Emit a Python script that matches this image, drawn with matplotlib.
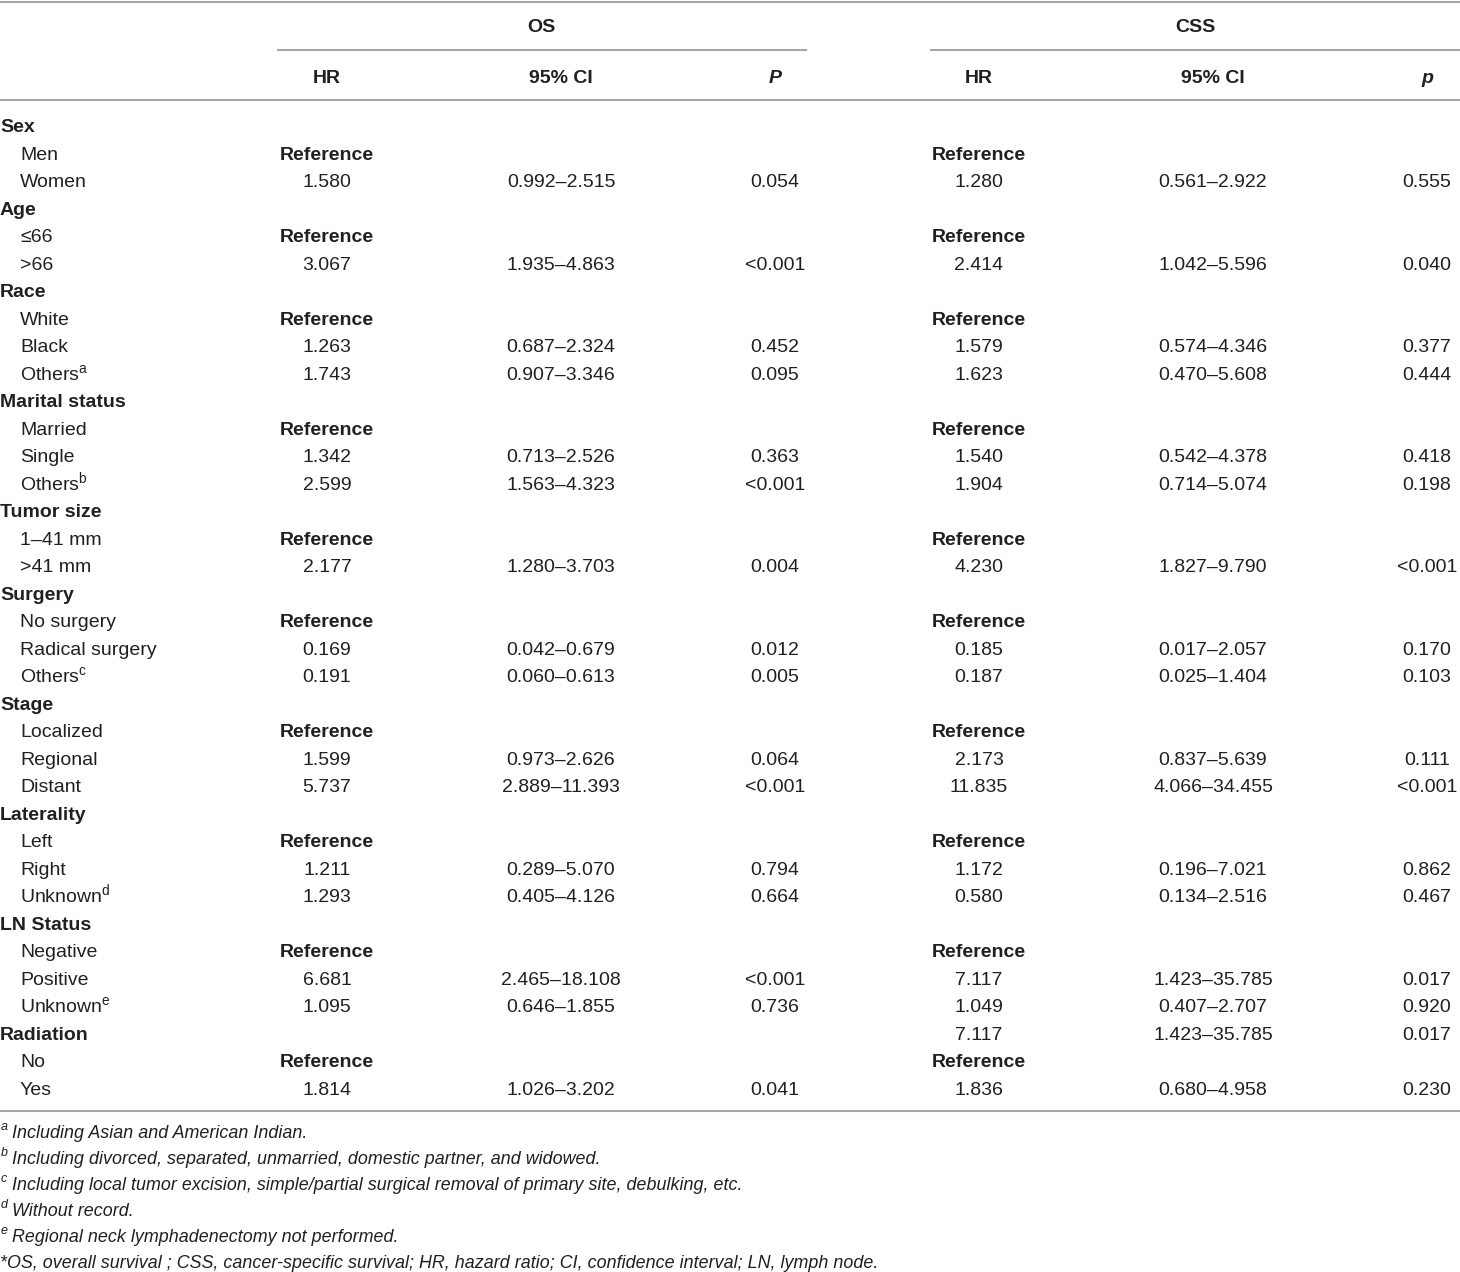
import matplotlib
matplotlib.use("Agg")
import matplotlib.pyplot as plt

plt.rcParams['font.family'] = ['Liberation Sans', 'DejaVu Sans']
plt.rcParams['mathtext.fontset'] = 'custom'
plt.rcParams['mathtext.rm'] = 'Liberation Sans'
plt.rcParams['mathtext.it'] = 'Liberation Sans:italic'

# ---- table content -------------------------------------------------------
labels = ["Sex", "Men", "Women",
          "Age", "≤66", ">66",
          "Race", "White", "Black", r"Others$^{\mathrm{a}}$",
          "Marital status", "Married", "Single", r"Others$^{\mathrm{b}}$",
          "Tumor size", "1–41 mm", ">41 mm",
          "Surgery", "No surgery", "Radical surgery", r"Others$^{\mathrm{c}}$",
          "Stage", "Localized", "Regional", "Distant",
          "Laterality", "Left", "Right", r"Unknown$^{\mathrm{d}}$",
          "LN Status", "Negative", "Positive", r"Unknown$^{\mathrm{e}}$",
          "Radiation", "No", "Yes"]
groups = ["Sex", "Age", "Race", "Marital status", "Tumor size", "Surgery",
          "Stage", "Laterality", "LN Status", "Radiation"]

os_hr = ["", "Reference", "1.580", "", "Reference", "3.067",
         "", "Reference", "1.263", "1.743",
         "", "Reference", "1.342", "2.599",
         "", "Reference", "2.177",
         "", "Reference", "0.169", "0.191",
         "", "Reference", "1.599", "5.737",
         "", "Reference", "1.211", "1.293",
         "", "Reference", "6.681", "1.095",
         "", "Reference", "1.814"]
os_ci = ["", "", "0.992–2.515", "", "", "1.935–4.863",
         "", "", "0.687–2.324", "0.907–3.346",
         "", "", "0.713–2.526", "1.563–4.323",
         "", "", "1.280–3.703",
         "", "", "0.042–0.679", "0.060–0.613",
         "", "", "0.973–2.626", "2.889–11.393",
         "", "", "0.289–5.070", "0.405–4.126",
         "", "", "2.465–18.108", "0.646–1.855",
         "", "", "1.026–3.202"]
os_p = ["", "", "0.054", "", "", "<0.001",
        "", "", "0.452", "0.095",
        "", "", "0.363", "<0.001",
        "", "", "0.004",
        "", "", "0.012", "0.005",
        "", "", "0.064", "<0.001",
        "", "", "0.794", "0.664",
        "", "", "<0.001", "0.736",
        "", "", "0.041"]
css_hr = ["", "Reference", "1.280", "", "Reference", "2.414",
          "", "Reference", "1.579", "1.623",
          "", "Reference", "1.540", "1.904",
          "", "Reference", "4.230",
          "", "Reference", "0.185", "0.187",
          "", "Reference", "2.173", "11.835",
          "", "Reference", "1.172", "0.580",
          "", "Reference", "7.117", "1.049",
          "7.117", "Reference", "1.836"]
css_ci = ["", "", "0.561–2.922", "", "", "1.042–5.596",
          "", "", "0.574–4.346", "0.470–5.608",
          "", "", "0.542–4.378", "0.714–5.074",
          "", "", "1.827–9.790",
          "", "", "0.017–2.057", "0.025–1.404",
          "", "", "0.837–5.639", "4.066–34.455",
          "", "", "0.196–7.021", "0.134–2.516",
          "", "", "1.423–35.785", "0.407–2.707",
          "1.423–35.785", "", "0.680–4.958"]
css_p = ["", "", "0.555", "", "", "0.040",
         "", "", "0.377", "0.444",
         "", "", "0.418", "0.198",
         "", "", "<0.001",
         "", "", "0.170", "0.103",
         "", "", "0.111", "<0.001",
         "", "", "0.862", "0.467",
         "", "", "0.017", "0.920",
         "0.017", "", "0.230"]

footnote_marks = ["a", "b", "c", "d", "e", ""]
footnotes = ["Including Asian and American Indian.",
             "Including divorced, separated, unmarried, domestic partner, and widowed.",
             "Including local tumor excision, simple/partial surgical removal of primary site, debulking, etc.",
             "Without record.",
             "Regional neck lymphadenectomy not performed.",
             "*OS, overall survival ; CSS, cancer-specific survival; HR, hazard ratio; "
             "CI, confidence interval; LN, lymph node."]

# ---- layout (pixel coordinates) -----------------------------------------
W, H = 1460, 1272
TXT = '#231f20'
RULE = '#a6a6a6'
FS = 14
ROW0, ROWSTEP = 126, 27.49
BASE = 6.5          # row centre -> text baseline
col_x = {'os_hr': 327, 'os_ci': 561, 'os_p': 775,
         'css_hr': 979, 'css_ci': 1213, 'css_p': 1427}

fig = plt.figure(figsize=(W / 100, H / 100), dpi=100)
ax = fig.add_axes([0, 0, 1, 1])
ax.set_xlim(0, W)
ax.set_ylim(H, 0)
ax.axis('off')

# rules
for y in (1.5, 100, 1111):
    ax.plot([0, W], [y, y], color=RULE, lw=1.5, solid_capstyle='butt')
ax.plot([277, 807], [50, 50], color=RULE, lw=1.5, solid_capstyle='butt')
ax.plot([930, W], [50, 50], color=RULE, lw=1.5, solid_capstyle='butt')

# headers
ax.text(541, 25 + BASE, "OS", ha='center', va='baseline', fontsize=FS,
        fontweight='bold', color=TXT)
ax.text(1195, 25 + BASE, "CSS", ha='center', va='baseline', fontsize=FS,
        fontweight='bold', color=TXT)
for key, head in [('os_hr', 'HR'), ('os_ci', '95% CI'), ('css_hr', 'HR'), ('css_ci', '95% CI')]:
    ax.text(col_x[key], 76.5 + BASE, head, ha='center', va='baseline', fontsize=FS,
            fontweight='bold', color=TXT)
ax.text(col_x['os_p'], 76.5 + BASE, "P", ha='center', va='baseline', fontsize=FS,
        fontweight='bold', fontstyle='italic', color=TXT)
ax.text(col_x['css_p'], 76.5 + BASE, "p", ha='center', va='baseline', fontsize=FS,
        fontweight='bold', fontstyle='italic', color=TXT)

# body
columns = [('os_hr', os_hr), ('os_ci', os_ci), ('os_p', os_p),
           ('css_hr', css_hr), ('css_ci', css_ci), ('css_p', css_p)]
for i, lab in enumerate(labels):
    y = ROW0 + i * ROWSTEP + BASE
    if lab in groups:
        ax.text(0, y, lab, ha='left', va='baseline', fontsize=FS,
                fontweight='bold', color=TXT)
    else:
        ax.text(20, y, lab, ha='left', va='baseline', fontsize=FS, color=TXT)
    for key, vals in columns:
        v = vals[i]
        if not v:
            continue
        bold = 'bold' if v == 'Reference' else 'normal'
        ax.text(col_x[key], y, v, ha='center', va='baseline', fontsize=FS,
                fontweight=bold, color=TXT)

# footnotes
for j, (mark, note) in enumerate(zip(footnote_marks, footnotes)):
    y = 1133 + j * 25.8 + 5.5
    if mark:
        ax.text(1, y - 8, mark, ha='left', va='baseline', fontsize=9,
                fontstyle='italic', color=TXT)
        ax.text(12, y, note, ha='left', va='baseline', fontsize=12.9,
                fontstyle='italic', color=TXT)
    else:
        ax.text(0, y, note, ha='left', va='baseline', fontsize=12.9,
                fontstyle='italic', color=TXT)

fig.savefig('out.png', dpi=100, facecolor='white')
